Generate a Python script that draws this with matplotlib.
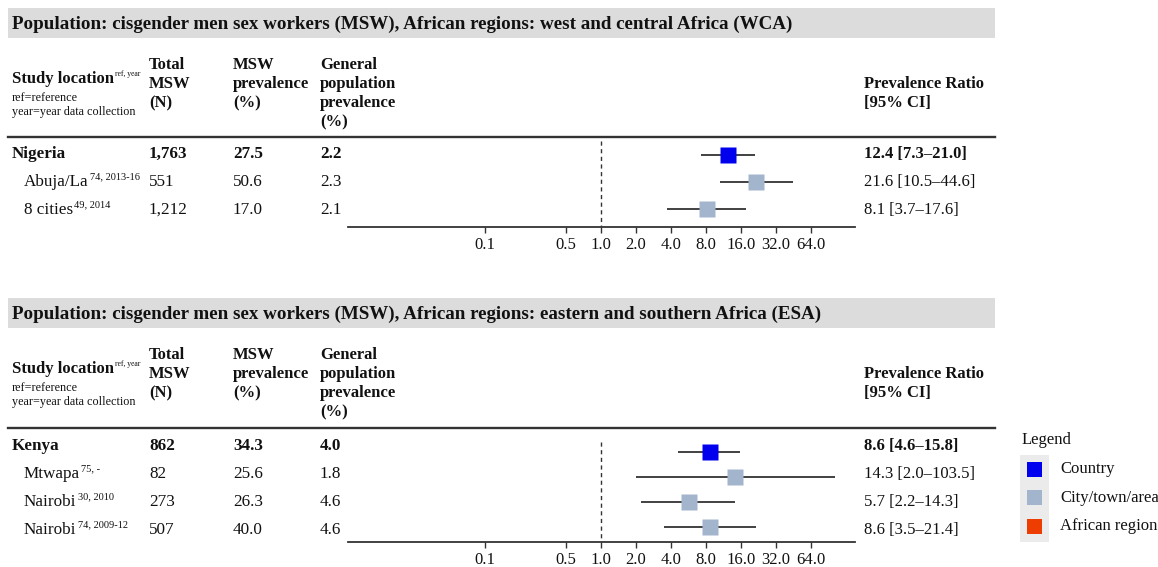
"""
forest plot: HIV prevalence ratio, cisgender men sex workers (WCA / ESA)
"""

import matplotlib
matplotlib.use("Agg")
import matplotlib.pyplot as plt
from matplotlib.patches import Rectangle
from matplotlib.ticker import FixedLocator, FixedFormatter, NullLocator

plt.rcParams['font.family'] = ['Liberation Serif', 'DejaVu Serif']

# ---- data ----
wca_title = "Population: cisgender men sex workers (MSW), African regions: west and central Africa (WCA)"
wca_names = ["Nigeria", "Abuja/La", "8 cities"]
wca_refs = ["", "74, 2013-16", "49, 2014"]
wca_n = ["1,763", "551", "1,212"]
wca_msw = ["27.5", "50.6", "17.0"]
wca_gen = ["2.2", "2.3", "2.1"]
wca_pr = [12.4, 21.6, 8.1]
wca_lo = [7.3, 10.5, 3.7]
wca_hi = [21.0, 44.6, 17.6]
wca_level = ["Country", "City/town/area", "City/town/area"]

esa_title = "Population: cisgender men sex workers (MSW), African regions: eastern and southern Africa (ESA)"
esa_names = ["Kenya", "Mtwapa", "Nairobi", "Nairobi"]
esa_refs = ["", "75, -", "30, 2010", "74, 2009-12"]
esa_n = ["862", "82", "273", "507"]
esa_msw = ["34.3", "25.6", "26.3", "40.0"]
esa_gen = ["4.0", "1.8", "4.6", "4.6"]
esa_pr = [8.6, 14.3, 5.7, 8.6]
esa_lo = [4.6, 2.0, 2.2, 3.5]
esa_hi = [15.8, 103.5, 14.3, 21.4]
esa_level = ["Country", "City/town/area", "City/town/area", "City/town/area"]

ticks = [0.1, 0.5, 1.0, 2.0, 4.0, 8.0, 16.0, 32.0, 64.0]
levels = ["Country", "City/town/area", "African region"]
level_colors = {"Country": "#0000ee", "City/town/area": "#a3b4cd", "African region": "#ee3d00"}

W, H = 1158, 567
fig = plt.figure(figsize=(W / 100, H / 100), dpi=100)
bg = fig.add_axes([0, 0, 1, 1])
bg.set_xlim(0, W)
bg.set_ylim(H, 0)
bg.axis('off')
renderer = fig.canvas.get_renderer()

BODY = 12.3
ink = "#111111"


def text_with_sup(x, y, s, sup, bold=False, size=BODY, supsize=7.5):
    t = bg.text(x, y, s, fontsize=size, va='center', ha='left', color=ink,
                fontweight='bold' if bold else 'normal')
    if sup:
        bb = t.get_window_extent(renderer)
        bg.text(bb.x1 + 1, y - 5, sup, fontsize=supsize, va='center', ha='left', color=ink)


def panel(top, title, names, refs, ns, msws, gens, prs, los, his, lvls,
          row_px, fst_top, fst_row, fst_sp, fst_bot, vtop):
    # banner
    bg.add_patch(Rectangle((8, top), 987, 30, color="#dcdcdc", lw=0))
    bg.text(12, top + 16, title, fontsize=13.7, fontweight='bold', va='center', color=ink)

    # header
    text_with_sup(12, top + 71, "Study location", "ref, year", bold=True, size=12, supsize=5.5)
    bg.text(12, top + 90, "ref=reference", fontsize=8.7, va='center', color=ink)
    bg.text(12, top + 104, "year=year data collection", fontsize=8.7, va='center', color=ink)
    heads = [(149, ["Total", "MSW", "(N)"]),
             (233, ["MSW", "prevalence", "(%)"]),
             (320, ["General", "population", "prevalence", "(%)"]),
             (864, ["", "Prevalence Ratio", "[95% CI]"])]
    for hx, lines in heads:
        for i, ln in enumerate(lines):
            bg.text(hx, top + 57 + 19 * i, ln, fontsize=12, fontweight='bold', va='center', color=ink)
    bg.plot([8, 995], [fst_top, fst_top], color="#333333", lw=1.7)

    # table rows
    for i in range(len(names)):
        y = row_px[i]
        bold = i == 0
        fw = 'bold' if bold else 'normal'
        text_with_sup(12 if bold else 24, y, names[i], refs[i], bold=bold)
        bg.text(149, y, ns[i], fontsize=BODY, fontweight=fw, va='center', color=ink)
        bg.text(233, y, msws[i], fontsize=BODY, fontweight=fw, va='center', color=ink)
        bg.text(320, y, gens[i], fontsize=BODY, fontweight=fw, va='center', color=ink)
        lab = f"{prs[i]:.1f} [{los[i]:.1f}\u2013{his[i]:.1f}]"
        bg.text(864, y, lab, fontsize=12, fontweight=fw, va='center', color=ink)

    # forest axes, log scale with 1.0 in the middle
    x0, x1 = 348, 855
    ax = fig.add_axes([x0 / W, 1 - fst_bot / H, (x1 - x0) / W, (fst_bot - fst_top) / H])
    ax.patch.set_alpha(0)
    ax.set_xscale('log')
    ax.set_xlim(2 ** (-253 / 35), 2 ** (254 / 35))
    nrow = len(names)
    ax.set_ylim((fst_bot - fst_row) / fst_sp, -(fst_row - fst_top) / fst_sp)
    rows = list(range(nrow))
    ax.plot([1, 1], [(vtop - fst_row) / fst_sp, (fst_bot - fst_row) / fst_sp],
            ls=(0, (3, 2.5)), color="#333333", lw=1)
    ax.hlines(rows, los, his, color="#333333", lw=1.3)
    for i in rows:
        ax.plot(prs[i], i, marker='s', ms=11.5, color=level_colors[lvls[i]], mec='none', ls='none')
    for s in ['top', 'left', 'right']:
        ax.spines[s].set_visible(False)
    ax.spines['bottom'].set_color("#333333")
    ax.spines['bottom'].set_linewidth(1.3)
    ax.yaxis.set_major_locator(NullLocator())
    ax.xaxis.set_major_locator(FixedLocator(ticks))
    ax.xaxis.set_major_formatter(FixedFormatter([f"{t:.1f}" for t in ticks]))
    ax.xaxis.set_minor_locator(NullLocator())
    ax.tick_params(axis='x', length=4, width=1, color="#333333", labelsize=12, labelcolor=ink, pad=3)
    return ax


panel(8, wca_title, wca_names, wca_refs, wca_n, wca_msw, wca_gen, wca_pr, wca_lo, wca_hi, wca_level,
      row_px=[154, 182, 210], fst_top=137, fst_row=155, fst_sp=27, fst_bot=227, vtop=141)
panel(298, esa_title, esa_names, esa_refs, esa_n, esa_msw, esa_gen, esa_pr, esa_lo, esa_hi, esa_level,
      row_px=[446, 474, 502, 530], fst_top=428, fst_row=452, fst_sp=25, fst_bot=542, vtop=442)

# legend
bg.text(1022, 440, "Legend", fontsize=12, va='center', color=ink)
bg.add_patch(Rectangle((1020, 455), 29, 87, color="#ebebeb", lw=0))
for k, lv in enumerate(levels):
    yy = 469 + 28.5 * k
    bg.add_patch(Rectangle((1027, yy - 7.5), 15, 15, color=level_colors[lv], lw=0))
    bg.text(1060, yy, lv, fontsize=12, va='center', color=ink)

fig.savefig("out.png", dpi=100)
